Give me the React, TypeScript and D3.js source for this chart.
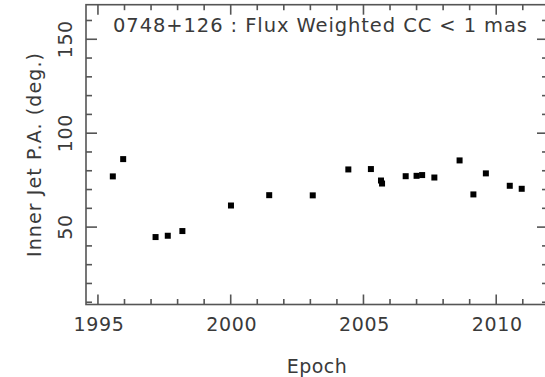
import React from "react";
import * as d3 from "d3";

const epochs = [1995.56, 1995.95, 1997.17, 1997.63, 1998.18, 2000.01, 2001.45, 2003.09, 2004.43, 2005.28, 2005.66, 2005.70, 2006.59, 2007.0, 2007.21, 2007.67, 2008.62, 2009.14, 2009.61, 2010.51, 2010.96];
const angles = [77.0, 86.2, 44.7, 45.4, 47.9, 61.5, 67.0, 66.9, 80.7, 80.9, 74.8, 73.2, 77.1, 77.3, 77.7, 76.4, 85.5, 67.4, 78.6, 72.0, 70.4];
const xMajorTicks = [1995, 2000, 2005, 2010];
const yMajorTicks = [50, 100, 150];
const titleText = "0748+126 : Flux Weighted CC < 1 mas";
const xLabel = "Epoch";
const yLabel = "Inner Jet P.A. (deg.)";

const W = 545;
const H = 377;
const L = 86, R = 548, T = 4.7, B = 304.5;

export default function App() {
  const x = d3.scaleLinear().domain([1994.55, 2011.95]).range([L, R]);
  const y = d3.scaleLinear().domain([8.8, 168.4]).range([B, T]);
  const xMinor = d3.range(1995, 2012, 1).filter((v) => !xMajorTicks.includes(v));
  const yMinor = d3.range(10, 170, 10).filter((v) => !yMajorTicks.includes(v));
  const axisColor = "#555";
  const textColor = "#3a3a3a";
  const font = "'DejaVu Sans', sans-serif";
  const sw = 1.6;
  const major = 10;
  const minor = 5.5;
  const ms = 6;
  return (
    <svg width={W} height={H} style={{ position: "absolute", left: 0, top: 0, background: "#fff" }}>
      <rect x={L} y={T} width={R - L} height={B - T} fill="none" stroke={axisColor} strokeWidth={sw} />
      {xMajorTicks.map((t) => (
        <g key={"xM" + t}>
          <line x1={x(t)} x2={x(t)} y1={B} y2={B - major} stroke={axisColor} strokeWidth={sw} />
          <line x1={x(t)} x2={x(t)} y1={T} y2={T + major} stroke={axisColor} strokeWidth={sw} />
          <text x={x(t) + 1} y={331} textAnchor="middle" fontFamily={font} fontSize={19} fill={textColor} letterSpacing={0.6}>
            {t}
          </text>
        </g>
      ))}
      {xMinor.map((t) => (
        <g key={"xm" + t}>
          <line x1={x(t)} x2={x(t)} y1={B} y2={B - minor} stroke={axisColor} strokeWidth={sw} />
          <line x1={x(t)} x2={x(t)} y1={T} y2={T + minor} stroke={axisColor} strokeWidth={sw} />
        </g>
      ))}
      {yMajorTicks.map((t) => (
        <g key={"yM" + t}>
          <line x1={L} x2={L + major + 1} y1={y(t)} y2={y(t)} stroke={axisColor} strokeWidth={sw} />
          <line x1={R} x2={R - major - 1} y1={y(t)} y2={y(t)} stroke={axisColor} strokeWidth={sw} />
          <text transform={`translate(72,${y(t)}) rotate(-90)`} textAnchor="middle" fontFamily={font} fontSize={19} fill={textColor} letterSpacing={0.6}>
            {t}
          </text>
        </g>
      ))}
      {yMinor.map((t) => (
        <g key={"ym" + t}>
          <line x1={L} x2={L + minor + 0.5} y1={y(t)} y2={y(t)} stroke={axisColor} strokeWidth={sw} />
          <line x1={R} x2={R - minor - 0.5} y1={y(t)} y2={y(t)} stroke={axisColor} strokeWidth={sw} />
        </g>
      ))}
      {epochs.map((e, i) => (
        <rect key={"p" + i} x={x(e) - ms / 2} y={y(angles[i]) - ms / 2} width={ms} height={ms} fill="#000" />
      ))}
      <text x={113} y={32} fontFamily={font} fontSize={19.5} fill={textColor} textLength={414} lengthAdjust="spacing">
        {titleText}
      </text>
      <text x={317} y={373} textAnchor="middle" fontFamily={font} fontSize={19} fill={textColor} letterSpacing={0.5}>
        {xLabel}
      </text>
      <text transform={`translate(41,155) rotate(-90)`} textAnchor="middle" fontFamily={font} fontSize={19} fill={textColor} textLength={204} lengthAdjust="spacing">
        {yLabel}
      </text>
    </svg>
  );
}
